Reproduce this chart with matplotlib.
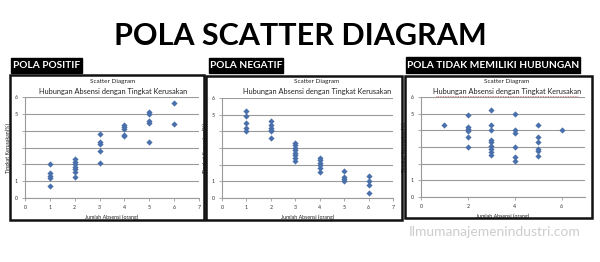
import matplotlib
matplotlib.use("Agg")
import matplotlib.pyplot as plt
from matplotlib.patches import Rectangle

plt.rcParams['font.family'] = ['Lato', 'DejaVu Sans']

W, H = 600, 262

# --- data -------------------------------------------------------------
pos_x = [1, 1, 1, 1, 1,
         2, 2, 2, 2, 2, 2, 2,
         3, 3, 3, 3, 3,
         4, 4, 4, 4, 4,
         5, 5, 5, 5, 5,
         6, 6]
pos_y = [2.0, 1.46, 1.3, 1.2, 0.7,
         2.3, 2.16, 2.0, 1.86, 1.72, 1.54, 1.22,
         3.82, 3.3, 3.2, 2.8, 2.1,
         4.36, 4.22, 4.1, 3.76, 3.7,
         5.12, 5.0, 4.56, 4.46, 3.3,
         5.66, 4.42]

neg_x = [1, 1, 1, 1, 1,
         2, 2, 2, 2, 2, 2,
         3, 3, 3, 3, 3, 3, 3, 3,
         4, 4, 4, 4, 4, 4,
         5, 5, 5, 5,
         6, 6, 6, 6]
neg_y = [5.22, 4.92, 4.52, 4.22, 4.02,
         4.62, 4.36, 4.22, 4.1, 4.0, 3.6,
         3.32, 3.16, 3.02, 2.86, 2.72, 2.56, 2.4, 2.22,
         2.42, 2.26, 2.12, 1.96, 1.82, 1.56,
         1.6, 1.26, 1.16, 1.0,
         1.32, 1.02, 0.76, 0.3]

none_x = [1,
          2, 2, 2, 2, 2, 2,
          3, 3, 3, 3, 3, 3, 3, 3, 3,
          4, 4, 4, 4, 4, 4,
          5, 5, 5, 5, 5, 5,
          6]
none_y = [4.32,
          4.9, 4.2, 4.08, 3.94, 3.6, 3.0,
          5.2, 4.34, 4.04, 3.44, 3.3, 3.04, 2.88, 2.7, 2.54,
          5.0, 4.04, 3.84, 3.0, 2.4, 2.14,
          4.3, 3.6, 3.3, 2.88, 2.74, 2.48,
          4.04]

panel_titles = ["POLA POSITIF", "POLA NEGATIF", "POLA TIDAK MEMILIKI HUBUNGAN"]
chart_title = "Scatter Diagram"
chart_subtitle = "Hubungan Absensi dengan Tingkat Kerusakan"
x_label = "Jumlah Absensi (orang)"
y_label = "Tingkat Kerusakan(%)"
y_ticks = [0, 1, 2, 3, 4, 5, 6]
y_ticklabels = ["0", "1", "", "", "", "5", "6"]
x_ticks_full = [0, 1, 2, 3, 4, 5, 6, 7]
x_ticks_even = [0, 2, 4, 6]

series = [(pos_x, pos_y, x_ticks_full),
          (neg_x, neg_y, x_ticks_full),
          (none_x, none_y, x_ticks_even)]

# --- layout (pixel boxes: left, top, right, bottom) ---------------------
frames = [(10, 75, 204, 220), (206, 76, 402, 220), (405, 76, 592, 218)]
tags = [(11, 58, 82, 73), (209, 58, 283, 73), (406, 57, 580, 73)]
plots = [(25, 97, 199, 198), (222, 98, 393, 198), (421, 97, 585, 197)]
heading_cx = [113, 317, 507]

fig = plt.figure(figsize=(W / 100, H / 100), dpi=100)
fig.patch.set_facecolor("white")


def fx(px):
    return px / W


def fy(py):
    return 1 - py / H


fig.text(0.5, fy(36), "POLA SCATTER DIAGRAM", ha="center", va="center",
         fontsize=22, fontweight="bold", color="black")

for (l, t, r, b) in frames:
    fig.patches.append(Rectangle((fx(l), fy(b)), fx(r - l), (b - t) / H,
                                 transform=fig.transFigure, fill=False,
                                 edgecolor="#111111", linewidth=1.8))

for (l, t, r, b), name in zip(tags, panel_titles):
    fig.patches.append(Rectangle((fx(l), fy(b)), fx(r - l), (b - t) / H,
                                 transform=fig.transFigure, facecolor="black",
                                 edgecolor="black"))
    fig.text(fx((l + r) / 2), fy((t + b) / 2), name, ha="center", va="center",
             fontsize=7.3, fontweight="bold", color="white")

grid_color = "#9a9a9a"
dot_color = "#4a70ab"

for i, ((l, t, r, b), (xs, ys, xt)) in enumerate(zip(plots, series)):
    ax = fig.add_axes([fx(l), fy(b), fx(r - l), (b - t) / H])
    ax.scatter(xs, ys, s=10, color=dot_color, marker="D", linewidths=0,
               zorder=3)
    ax.set_xlim(0, 7)
    ax.set_ylim(0, 6)
    ax.set_yticks(y_ticks)
    ax.set_yticklabels(y_ticklabels)
    ax.set_xticks(xt)
    ax.set_xticklabels([str(v) for v in xt])
    ax.yaxis.grid(True, color=grid_color, linewidth=0.8)
    ax.set_axisbelow(True)
    for side in ("top", "right"):
        ax.spines[side].set_visible(False)
    for side in ("left", "bottom"):
        ax.spines[side].set_color(grid_color)
        ax.spines[side].set_linewidth(0.8)
    ax.tick_params(axis="both", labelsize=3.8, length=2, width=0.6,
                   color=grid_color, pad=3, labelcolor="#333333")
    ax.set_xlabel(x_label, fontsize=3.8, labelpad=3.5, color="#222222")
    ax.set_ylabel(y_label, fontsize=3.8, labelpad=3.0, color="#222222")
    cx = heading_cx[i]
    fig.text(fx(cx), fy(82), chart_title, ha="center", va="center",
             fontsize=4.6, color="#222222")
    fig.text(fx(cx), fy(92), chart_subtitle, ha="center", va="center",
             fontsize=5.3, color="#222222")
    if i == 2:
        # spell-check style underline beneath the subtitle
        fig.add_artist(plt.Line2D([fx(cx - 71), fx(cx + 71)],
                                  [fy(95.5), fy(95.5)],
                                  transform=fig.transFigure,
                                  color="#d06060", linewidth=0.6,
                                  linestyle=(0, (1, 1))))

fig.text(fx(495), fy(232), "Ilmumanajemenindustri.com", ha="center",
         va="center", fontsize=10, color="#cdcdcd")

fig.savefig("out.png", dpi=100, facecolor="white")
